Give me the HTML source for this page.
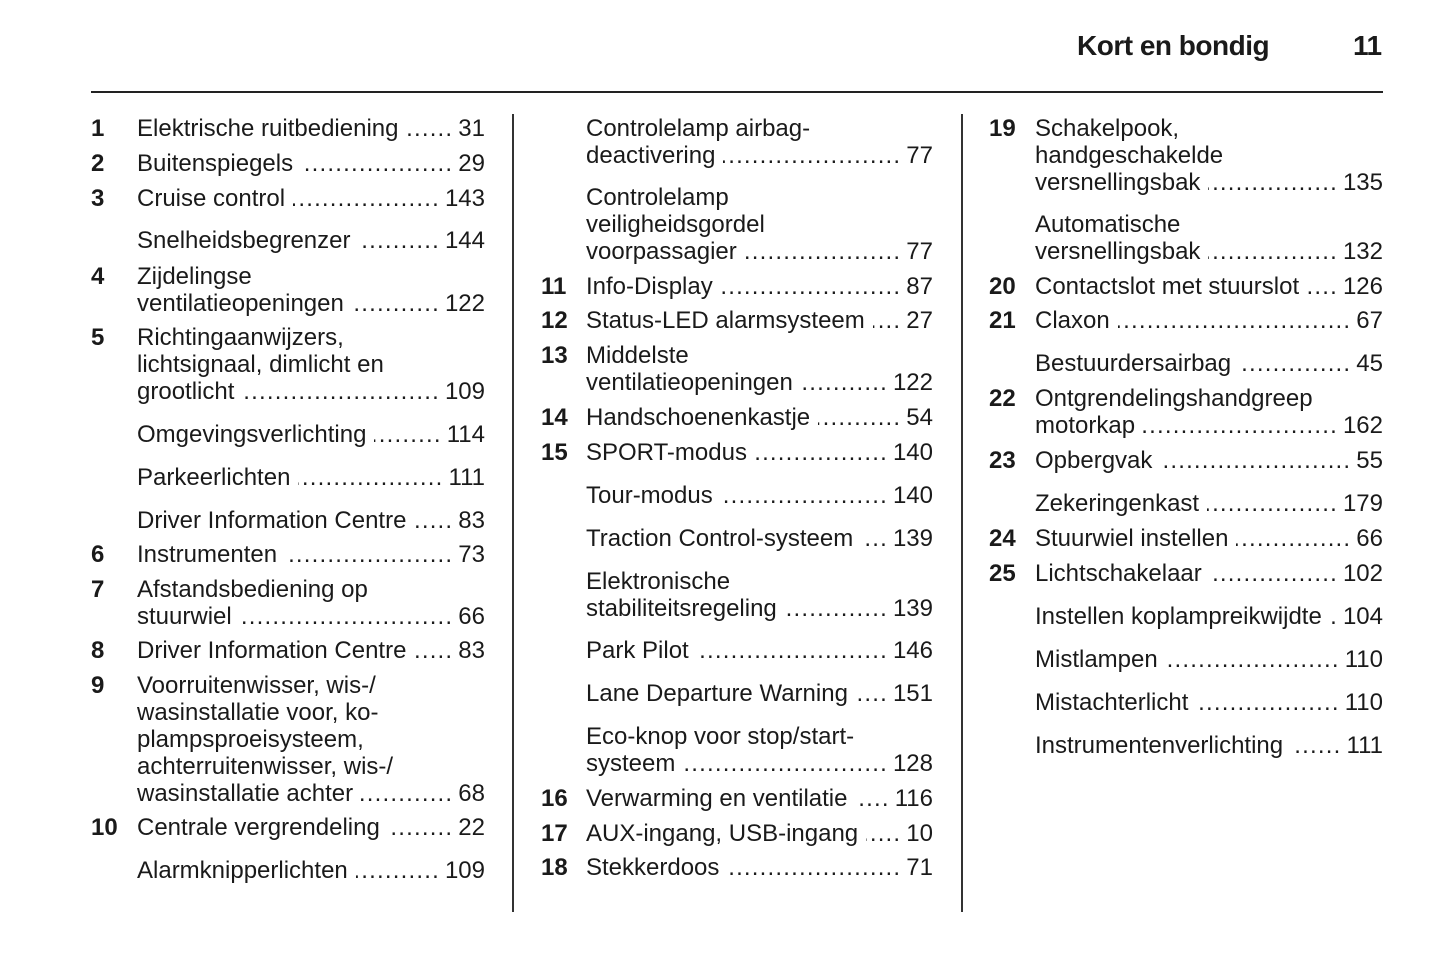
<!DOCTYPE html><html><head><meta charset="utf-8"><style>
html,body{margin:0;padding:0;background:#fff;}
body{width:1445px;height:965px;position:relative;overflow:hidden;font-family:"Liberation Sans",Arial,sans-serif;color:#1a1a1a;}
.h{position:absolute;top:30px;font-size:28px;font-weight:bold;letter-spacing:-0.5px;}
.hl{position:absolute;left:91px;top:91px;width:1292px;height:2px;background:#222;}
.vl{position:absolute;top:114px;width:2px;height:798px;background:#333;}
.l{position:absolute;height:28px;line-height:28px;font-size:24px;white-space:nowrap;display:flex;}
.n{position:absolute;font-size:24px;font-weight:bold;line-height:28px;height:28px;}
.f{flex:1;overflow:hidden;position:relative;margin:0 5px 0 8px;}
.f::before{content:"......................................................................................................................";position:absolute;right:0;letter-spacing:1.2px;}
.c1{left:137px;width:348px}.c2{left:586px;width:347px}.c3{left:1035px;width:348px}
</style></head><body>
<div class="h" style="left:1077px">Kort en bondig</div>
<div class="h" style="left:1353px">11</div>
<div class="hl"></div>
<div class="vl" style="left:512px"></div>
<div class="vl" style="left:961px"></div>

<div class="n" style="left:91px;top:115px">1</div><div class="l c1" style="top:115px"><span>Elektrische ruitbediening</span><span class="f"></span><span>31</span></div>
<div class="n" style="left:91px;top:150px">2</div><div class="l c1" style="top:150px"><span>Buitenspiegels</span><span class="f"></span><span>29</span></div>
<div class="n" style="left:91px;top:185px">3</div><div class="l c1" style="top:185px"><span>Cruise control</span><span class="f"></span><span>143</span></div>
<div class="l c1" style="top:227px"><span>Snelheidsbegrenzer</span><span class="f"></span><span>144</span></div>
<div class="n" style="left:91px;top:263px">4</div><div class="l c1" style="top:263px"><span>Zijdelingse</span></div>
<div class="l c1" style="top:290px"><span>ventilatieopeningen</span><span class="f"></span><span>122</span></div>
<div class="n" style="left:91px;top:324px">5</div><div class="l c1" style="top:324px"><span>Richtingaanwijzers,</span></div>
<div class="l c1" style="top:351px"><span>lichtsignaal, dimlicht en</span></div>
<div class="l c1" style="top:378px"><span>grootlicht</span><span class="f"></span><span>109</span></div>
<div class="l c1" style="top:421px"><span>Omgevingsverlichting</span><span class="f"></span><span>114</span></div>
<div class="l c1" style="top:464px"><span>Parkeerlichten</span><span class="f"></span><span>111</span></div>
<div class="l c1" style="top:507px"><span>Driver Information Centre</span><span class="f"></span><span>83</span></div>
<div class="n" style="left:91px;top:541px">6</div><div class="l c1" style="top:541px"><span>Instrumenten</span><span class="f"></span><span>73</span></div>
<div class="n" style="left:91px;top:576px">7</div><div class="l c1" style="top:576px"><span>Afstandsbediening op</span></div>
<div class="l c1" style="top:603px"><span>stuurwiel</span><span class="f"></span><span>66</span></div>
<div class="n" style="left:91px;top:637px">8</div><div class="l c1" style="top:637px"><span>Driver Information Centre</span><span class="f"></span><span>83</span></div>
<div class="n" style="left:91px;top:672px">9</div><div class="l c1" style="top:672px"><span>Voorruitenwisser, wis-/</span></div>
<div class="l c1" style="top:699px"><span>wasinstallatie voor, ko-</span></div>
<div class="l c1" style="top:726px"><span>plampsproeisysteem,</span></div>
<div class="l c1" style="top:753px"><span>achterruitenwisser, wis-/</span></div>
<div class="l c1" style="top:780px"><span>wasinstallatie achter</span><span class="f"></span><span>68</span></div>
<div class="n" style="left:91px;top:814px">10</div><div class="l c1" style="top:814px"><span>Centrale vergrendeling</span><span class="f"></span><span>22</span></div>
<div class="l c1" style="top:857px"><span>Alarmknipperlichten</span><span class="f"></span><span>109</span></div>

<div class="l c2" style="top:115px"><span>Controlelamp airbag-</span></div>
<div class="l c2" style="top:142px"><span>deactivering</span><span class="f"></span><span>77</span></div>
<div class="l c2" style="top:184px"><span>Controlelamp</span></div>
<div class="l c2" style="top:211px"><span>veiligheidsgordel</span></div>
<div class="l c2" style="top:238px"><span>voorpassagier</span><span class="f"></span><span>77</span></div>
<div class="n" style="left:541px;top:273px">11</div><div class="l c2" style="top:273px"><span>Info-Display</span><span class="f"></span><span>87</span></div>
<div class="n" style="left:541px;top:307px">12</div><div class="l c2" style="top:307px"><span>Status-LED alarmsysteem</span><span class="f"></span><span>27</span></div>
<div class="n" style="left:541px;top:342px">13</div><div class="l c2" style="top:342px"><span>Middelste</span></div>
<div class="l c2" style="top:369px"><span>ventilatieopeningen</span><span class="f"></span><span>122</span></div>
<div class="n" style="left:541px;top:404px">14</div><div class="l c2" style="top:404px"><span>Handschoenenkastje</span><span class="f"></span><span>54</span></div>
<div class="n" style="left:541px;top:439px">15</div><div class="l c2" style="top:439px"><span>SPORT-modus</span><span class="f"></span><span>140</span></div>
<div class="l c2" style="top:482px"><span>Tour-modus</span><span class="f"></span><span>140</span></div>
<div class="l c2" style="top:525px"><span>Traction Control-systeem</span><span class="f"></span><span>139</span></div>
<div class="l c2" style="top:568px"><span>Elektronische</span></div>
<div class="l c2" style="top:595px"><span>stabiliteitsregeling</span><span class="f"></span><span>139</span></div>
<div class="l c2" style="top:637px"><span>Park Pilot</span><span class="f"></span><span>146</span></div>
<div class="l c2" style="top:680px"><span>Lane Departure Warning</span><span class="f"></span><span>151</span></div>
<div class="l c2" style="top:723px"><span>Eco-knop voor stop/start-</span></div>
<div class="l c2" style="top:750px"><span>systeem</span><span class="f"></span><span>128</span></div>
<div class="n" style="left:541px;top:785px">16</div><div class="l c2" style="top:785px"><span>Verwarming en ventilatie</span><span class="f"></span><span>116</span></div>
<div class="n" style="left:541px;top:820px">17</div><div class="l c2" style="top:820px"><span>AUX-ingang, USB-ingang</span><span class="f"></span><span>10</span></div>
<div class="n" style="left:541px;top:854px">18</div><div class="l c2" style="top:854px"><span>Stekkerdoos</span><span class="f"></span><span>71</span></div>

<div class="n" style="left:989px;top:115px">19</div><div class="l c3" style="top:115px"><span>Schakelpook,</span></div>
<div class="l c3" style="top:142px"><span>handgeschakelde</span></div>
<div class="l c3" style="top:169px"><span>versnellingsbak</span><span class="f"></span><span>135</span></div>
<div class="l c3" style="top:211px"><span>Automatische</span></div>
<div class="l c3" style="top:238px"><span>versnellingsbak</span><span class="f"></span><span>132</span></div>
<div class="n" style="left:989px;top:273px">20</div><div class="l c3" style="top:273px"><span>Contactslot met stuurslot</span><span class="f"></span><span>126</span></div>
<div class="n" style="left:989px;top:307px">21</div><div class="l c3" style="top:307px"><span>Claxon</span><span class="f"></span><span>67</span></div>
<div class="l c3" style="top:350px"><span>Bestuurdersairbag</span><span class="f"></span><span>45</span></div>
<div class="n" style="left:989px;top:385px">22</div><div class="l c3" style="top:385px"><span>Ontgrendelingshandgreep</span></div>
<div class="l c3" style="top:412px"><span>motorkap</span><span class="f"></span><span>162</span></div>
<div class="n" style="left:989px;top:447px">23</div><div class="l c3" style="top:447px"><span>Opbergvak</span><span class="f"></span><span>55</span></div>
<div class="l c3" style="top:490px"><span>Zekeringenkast</span><span class="f"></span><span>179</span></div>
<div class="n" style="left:989px;top:525px">24</div><div class="l c3" style="top:525px"><span>Stuurwiel instellen</span><span class="f"></span><span>66</span></div>
<div class="n" style="left:989px;top:560px">25</div><div class="l c3" style="top:560px"><span>Lichtschakelaar</span><span class="f"></span><span>102</span></div>
<div class="l c3" style="top:603px"><span>Instellen koplampreikwijdte</span><span class="f"></span><span>104</span></div>
<div class="l c3" style="top:646px"><span>Mistlampen</span><span class="f"></span><span>110</span></div>
<div class="l c3" style="top:689px"><span>Mistachterlicht</span><span class="f"></span><span>110</span></div>
<div class="l c3" style="top:732px"><span>Instrumentenverlichting</span><span class="f"></span><span>111</span></div>
</body></html>
